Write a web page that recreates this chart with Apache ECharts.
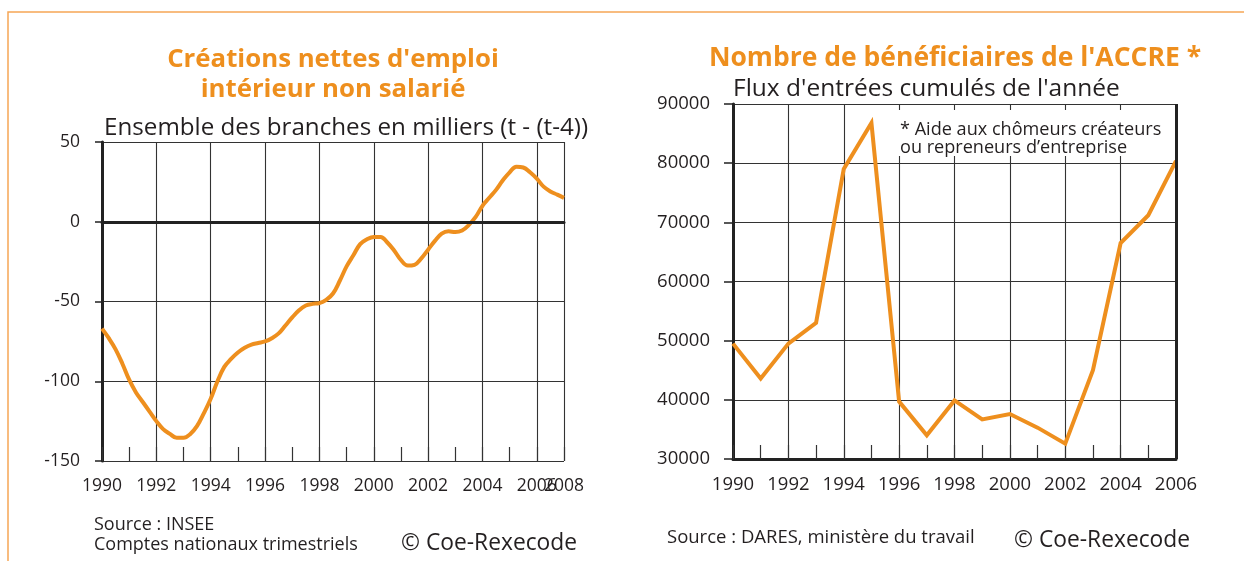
<!DOCTYPE html>
<html>
<head>
<meta charset="utf-8">
<script src="https://cdn.jsdelivr.net/npm/echarts@6/dist/echarts.min.js"></script>
<style>
  html, body { margin: 0; background: #fff; }
  #chart { width: 1244px; height: 561px; }
</style>
</head>
<body>
<div id="chart"></div>
<script>
// Créations nettes d'emploi non salarié, trimestriel, 1990T1 -> 2007T1 (milliers)
const emploiValues = [
  -67, -73, -80, -89, -99, -107, -113, -119,
  -125, -130, -133, -135.5, -135.5, -133, -128, -120,
  -111, -100, -91, -86, -82, -79, -77, -76,
  -75, -73, -70, -65, -60, -55.5, -52.5, -51.5,
  -51, -49, -45, -37, -28, -21, -14, -11,
  -9.5, -9.5, -13, -18, -24, -27.5, -27, -23,
  -17.5, -12, -7.5, -6, -6.5, -5.5, -2, 3,
  10, 15, 20, 26, 31, 34.5, 34, 31,
  27, 22, 19, 17, 15
];
const emploiStart = 1990;

// Bénéficiaires de l'ACCRE, annuel
const accreYears = [1990, 1991, 1992, 1993, 1994, 1995, 1996, 1997, 1998,
  1999, 2000, 2001, 2002, 2003, 2004, 2005, 2006];
const accreValues = [49500, 43600, 49500, 53000, 79000, 86800, 39700, 34000, 39900,
  36700, 37600, 35300, 32600, 45000, 66500, 71200, 80400];

const leftXLabels = ['1990', '1992', '1994', '1996', '1998', '2000', '2002', '2004', '2006'];
const leftXEndLabel = '2008';
const leftYLabels = ['-150', '-100', '-50', '0', '50'];
const rightXLabels = ['1990', '1992', '1994', '1996', '1998', '2000', '2002', '2004', '2006'];
const rightYLabels = ['30000', '40000', '50000', '60000', '70000', '80000', '90000'];

const orange = '#EE8F1E';
const ink = '#231F20';
const gridCol = '#333';
const font = '"Open Sans", Lato, sans-serif';

const emploiPoints = emploiValues.map((v, i) => [emploiStart + i / 4, v]);
const accrePoints = accreYears.map((y, i) => [y, accreValues[i]]);

let myChart = echarts.init(document.getElementById('chart'), null, { width: 1244, height: 561 });

function txt(text, x, y, size, opts) {
  return {
    type: 'text', silent: true, z: 100,
    style: Object.assign({
      text: text, x: x, y: y,
      fontSize: size, fontFamily: font, fill: ink,
      textAlign: 'left', textVerticalAlign: 'middle'
    }, opts || {})
  };
}

const leftLabel = { fontSize: 17.5, color: ink, fontFamily: font };
const rightLabel = { fontSize: 18.5, color: ink, fontFamily: font };

let option = {
  animation: false,
  backgroundColor: '#fff',
  grid: [
    { left: 102, top: 142, width: 462, height: 319 },
    { left: 733, top: 104, width: 443, height: 355 }
  ],
  xAxis: [
    {
      gridIndex: 0, type: 'value', position: 'bottom',
      min: 1990, max: 2007, interval: 2,
      axisLine: { lineStyle: { color: '#222', width: 3 } },
      axisTick: { show: false },
      splitLine: { show: true, lineStyle: { color: gridCol, width: 1.1 } },
      axisLabel: Object.assign({
        margin: 16, showMinLabel: true, showMaxLabel: false,
        formatter: (v, i) => leftXLabels[i] || ''
      }, leftLabel)
    },
    {
      // petites graduations annuelles + libellé de fin
      gridIndex: 0, type: 'value', position: 'bottom',
      min: 1990, max: 2007, interval: 1,
      axisLine: { show: false },
      axisTick: { show: true, inside: true, length: 14, lineStyle: { color: gridCol, width: 1.2 } },
      splitLine: { show: false },
      axisLabel: Object.assign({
        margin: 16, showMinLabel: true, showMaxLabel: true,
        formatter: v => (v === 2007 ? leftXEndLabel : '')
      }, leftLabel)
    },
    {
      gridIndex: 1, type: 'value', position: 'bottom',
      min: 1990, max: 2006, interval: 2,
      axisLine: { lineStyle: { color: '#222', width: 3 } },
      axisTick: { show: false },
      splitLine: { show: true, lineStyle: { color: gridCol, width: 1.1 } },
      axisLabel: Object.assign({
        margin: 16, showMinLabel: true, showMaxLabel: true,
        formatter: (v, i) => rightXLabels[i]
      }, rightLabel)
    },
    {
      gridIndex: 1, type: 'value', position: 'bottom',
      min: 1990, max: 2006, interval: 1,
      axisLine: { show: false },
      axisTick: { show: true, inside: true, length: 14, lineStyle: { color: gridCol, width: 1.2 } },
      splitLine: { show: false },
      axisLabel: { show: false }
    }
  ],
  yAxis: [
    {
      gridIndex: 0, type: 'value',
      min: -150, max: 50, interval: 50,
      axisLine: { show: true, lineStyle: { color: '#222', width: 3 } },
      axisTick: { show: true, length: 7, lineStyle: { color: '#222', width: 1.5 } },
      splitLine: { show: true, lineStyle: { color: gridCol, width: 1.1 } },
      axisLabel: Object.assign({ margin: 22, formatter: (v, i) => leftYLabels[i] }, leftLabel)
    },
    {
      gridIndex: 1, type: 'value',
      min: 30000, max: 90000, interval: 10000,
      axisLine: { show: true, lineStyle: { color: '#222', width: 3 } },
      axisTick: { show: true, length: 9, lineStyle: { color: '#222', width: 1.5 } },
      splitLine: { show: true, lineStyle: { color: gridCol, width: 1.1 } },
      axisLabel: Object.assign({ margin: 23, formatter: (v, i) => rightYLabels[i] }, rightLabel)
    }
  ],
  series: [
    {
      name: 'Créations nettes',
      type: 'line',
      xAxisIndex: 0, yAxisIndex: 0,
      data: emploiPoints,
      smooth: 0.4,
      showSymbol: false,
      lineStyle: { color: orange, width: 4 },
      markLine: {
        silent: true, symbol: 'none', label: { show: false },
        lineStyle: { color: '#222', width: 3, type: 'solid' },
        data: [{ yAxis: 0 }]
      }
    },
    {
      name: 'ACCRE',
      type: 'line',
      xAxisIndex: 2, yAxisIndex: 1,
      data: accrePoints,
      showSymbol: false,
      lineStyle: { color: orange, width: 4, join: 'miter' },
      markLine: {
        silent: true, symbol: 'none', label: { show: false },
        lineStyle: { color: '#222', width: 3, type: 'solid' },
        data: [{ xAxis: 2006 }]
      }
    }
  ],
  graphic: [
    {
      type: 'polyline', silent: true,
      shape: { points: [[8, 561], [8, 12], [1244, 12]] },
      style: { stroke: '#F6A656', lineWidth: 1.5, fill: null }
    },
    // boîte blanche de la note
    {
      type: 'rect', silent: true, z: 50,
      shape: { x: 896, y: 110, width: 278, height: 46 },
      style: { fill: '#fff' }
    },
    txt("Créations nettes d'emploi", 333, 60, 25.8, { fill: orange, fontWeight: 'bold', textAlign: 'center' }),
    txt('intérieur non salarié', 333, 90, 25.8, { fill: orange, fontWeight: 'bold', textAlign: 'center' }),
    txt('Ensemble des branches en milliers (t - (t-4))', 104, 128, 24.2),
    txt("Nombre de bénéficiaires de l'ACCRE *", 955, 58, 26.5, { fill: orange, fontWeight: 'bold', textAlign: 'center' }),
    txt("Flux d'entrées cumulés de l'année", 733, 89, 24.5),
    txt('* Aide aux chômeurs créateurs', 900, 130, 18.1),
    txt('ou repreneurs d\u2019entreprise', 900, 148, 18.1),
    txt('Source : INSEE', 94, 525, 18),
    txt('Comptes nationaux trimestriels', 94, 545, 18),
    txt('© Coe-Rexecode', 401, 544, 22.8),
    txt('Source : DARES, ministère du travail', 667, 538, 18.5),
    txt('© Coe-Rexecode', 1014, 541, 22.8)
  ]
};
myChart.setOption(option);
</script>
</body>
</html>
